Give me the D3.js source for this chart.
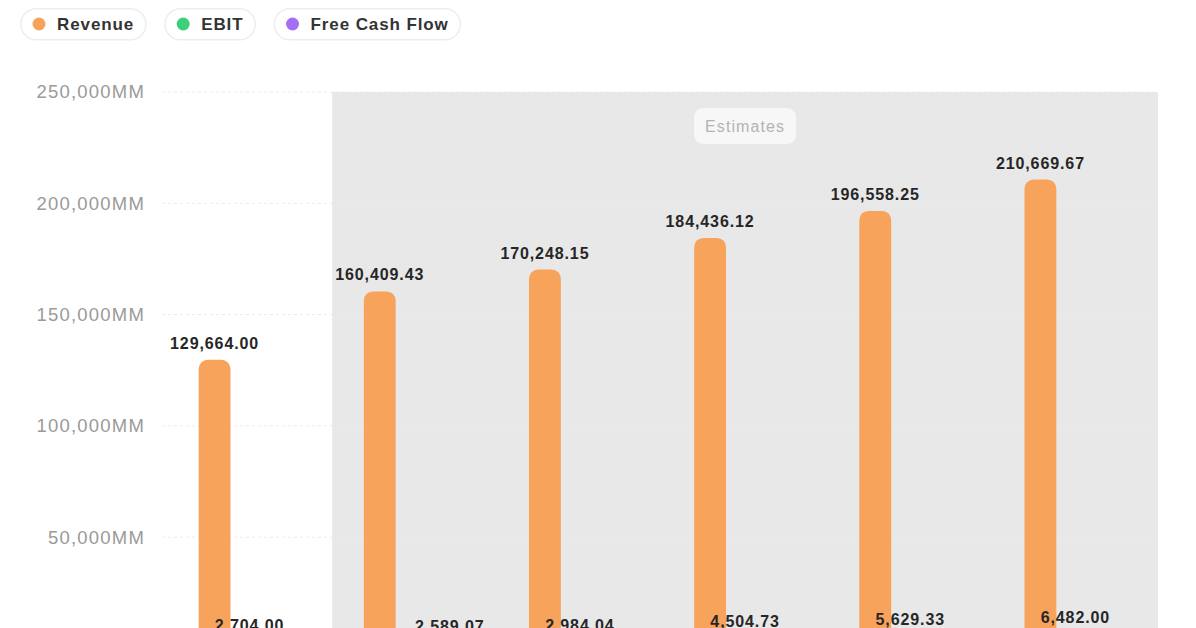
<!DOCTYPE html>
<html>
<head>
<meta charset="utf-8">
<script src="https://cdn.jsdelivr.net/npm/d3@7"></script>
<style>
  html, body { margin: 0; padding: 0; background: #ffffff; overflow: hidden; }
  #chart { width: 1196px; height: 628px; }
  text { font-family: "Liberation Sans", Arial, sans-serif; }
</style>
</head>
<body>
<div id="chart"></div>
<script>
// chart values
const categories = ["FY2024", "FY2025E", "FY2026E", "FY2027E", "FY2028E", "FY2029E"];
const isEstimate = [false, true, true, true, true, true];
const seriesNames = ["Revenue", "EBIT", "Free Cash Flow"];
const seriesColors = ["#f7a35c", "#3ecf7a", "#a66ef2"];
const revenue = [129664.00, 160409.43, 170248.15, 184436.12, 196558.25, 210669.67];
const ebit = [2704.00, 2150.00, 2984.04, 4504.73, 5629.33, 6482.00];
const freeCashFlow = [1850.00, 2589.07, 2200.00, 3350.00, 4150.00, 4900.00];
const yTicks = [50000, 100000, 150000, 200000, 250000];
const estimateLabel = "Estimates";

const W = 1196, H = 628;
const margin = { top: 92, right: 38, left: 167 };
const zeroY = 648.5; // baseline sits just under the visible area

const svg = d3.select("#chart").append("svg")
    .attr("width", W)
    .attr("height", H);

const x = d3.scaleBand()
    .domain(categories)
    .range([margin.left, W - margin.right])
    .padding(0);

const inner = d3.scaleBand()
    .domain(seriesNames)
    .range([0, x.bandwidth()])
    .paddingInner(0.09)
    .paddingOuter(0.905);

const y = d3.scaleLinear()
    .domain([0, 250000])
    .range([zeroY, margin.top]);

// estimates shading
const firstEst = categories[isEstimate.indexOf(true)];
svg.append("rect")
    .attr("x", x(firstEst))
    .attr("y", y(250000))
    .attr("width", x.range()[1] - x(firstEst))
    .attr("height", zeroY - y(250000) + 40)
    .attr("fill", "#e8e8e8");

// gridlines
svg.append("g")
    .selectAll("line")
    .data(yTicks)
    .join("line")
    .attr("x1", margin.left - 5)
    .attr("x2", W - margin.right)
    .attr("y1", d => y(d))
    .attr("y2", d => y(d))
    .attr("stroke", "#ebebeb")
    .attr("stroke-dasharray", "3,3");

// y axis
const yAxis = svg.append("g")
    .attr("transform", `translate(${margin.left - 22},0)`)
    .call(d3.axisLeft(y).tickValues(yTicks).tickSize(0).tickPadding(0)
        .tickFormat(d => d3.format(",")(d) + "MM"));
yAxis.select(".domain").remove();
yAxis.selectAll("text")
    .attr("fill", "#9a9a9a")
    .attr("font-size", 18.5)
    .attr("letter-spacing", 1.2)
    .style("font-family", "'Liberation Sans', Arial, sans-serif");

// "Estimates" badge
const estCenter = (x(firstEst) + x.range()[1]) / 2;
const badge = svg.append("g").attr("transform", `translate(${estCenter},126)`);
const badgeText = badge.append("text")
    .attr("text-anchor", "middle")
    .attr("dy", "0.35em")
    .attr("fill", "#b3b3b3")
    .attr("font-size", 16)
    .attr("letter-spacing", 1.1)
    .text(estimateLabel);
const bw = badgeText.node().getComputedTextLength() + 22;
badge.insert("rect", "text")
    .attr("x", -bw / 2)
    .attr("y", -18)
    .attr("width", bw)
    .attr("height", 36)
    .attr("rx", 9)
    .attr("fill", "#f7f7f7");

// bars
const seriesValues = [revenue, ebit, freeCashFlow];
const barData = [];
categories.forEach((cat, i) => {
    seriesNames.forEach((name, s) => {
        barData.push({ cat, name, s, value: seriesValues[s][i] });
    });
});

svg.append("g")
    .selectAll("rect")
    .data(barData)
    .join("rect")
    .attr("x", d => x(d.cat) + inner(d.name))
    .attr("y", d => y(d.value))
    .attr("width", inner.bandwidth())
    .attr("height", d => y(0) - y(d.value))
    .attr("rx", 9)
    .attr("fill", d => seriesColors[d.s]);

// value labels, overlapping ones hidden (bigger value wins)
const labels = svg.append("g")
    .selectAll("text")
    .data(barData)
    .join("text")
    .attr("x", d => x(d.cat) + inner(d.name) + inner.bandwidth() / 2)
    .attr("y", d => y(d.value) - 11)
    .attr("text-anchor", "middle")
    .attr("fill", "#262626")
    .attr("font-size", 16)
    .attr("font-weight", "bold")
    .attr("letter-spacing", 0.9)
    .text(d => d3.format(",.2f")(d.value));

const kept = [];
labels.nodes()
    .map(n => ({ n, d: d3.select(n).datum(), b: n.getBBox() }))
    .sort((a, b) => b.d.value - a.d.value)
    .forEach(l => {
        const hit = kept.some(k => !(l.b.x + l.b.width < k.x || k.x + k.width < l.b.x ||
            l.b.y + l.b.height < k.y || k.y + k.height < l.b.y));
        if (hit) d3.select(l.n).remove();
        else kept.push(l.b);
    });

// legend
const legend = svg.append("g").attr("transform", "translate(20,8)");
let lx = 0;
seriesNames.forEach((name, s) => {
    const g = legend.append("g").attr("transform", `translate(${lx},0)`);
    const t = g.append("text")
        .attr("x", 37)
        .attr("y", 16)
        .attr("dy", "0.35em")
        .attr("fill", "#333")
        .attr("font-size", 17)
        .attr("font-weight", "bold")
        .attr("letter-spacing", 0.9)
        .text(name);
    const w = 37 + t.node().getComputedTextLength() + 11;
    g.insert("rect", "text")
        .attr("x", 0.75)
        .attr("y", 0.75)
        .attr("width", w)
        .attr("height", 31)
        .attr("rx", 15.5)
        .attr("fill", "#fff")
        .attr("stroke", "#ededed")
        .attr("stroke-width", 1.5);
    g.append("circle")
        .attr("cx", 19)
        .attr("cy", 16)
        .attr("r", 6.5)
        .attr("fill", seriesColors[s]);
    lx += w + 19;
});
</script>
</body>
</html>
